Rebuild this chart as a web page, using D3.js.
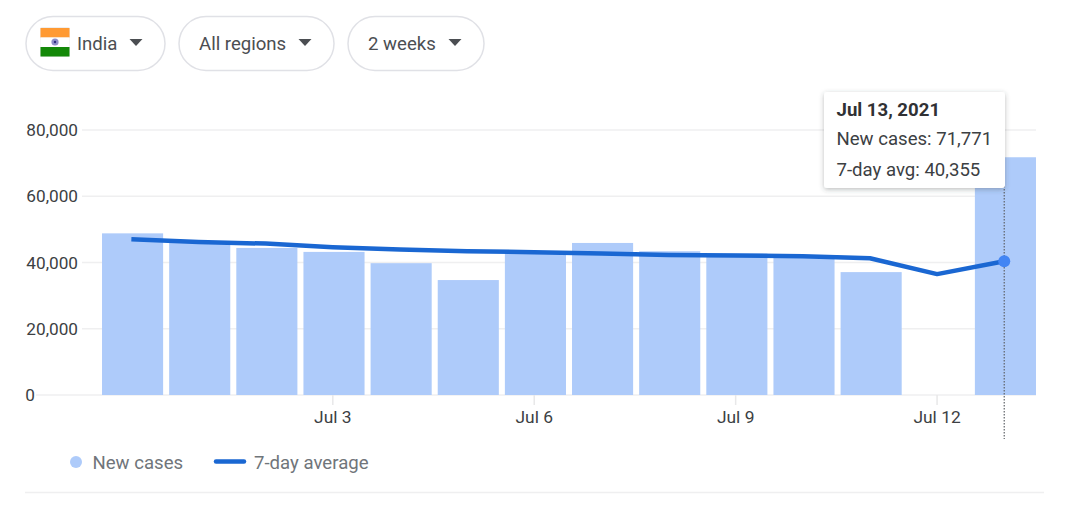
<!DOCTYPE html>
<html>
<head>
<meta charset="utf-8">
<script src="https://cdn.jsdelivr.net/npm/d3@7"></script>
<style>
  html, body { margin: 0; padding: 0; background: #fff; overflow: hidden; }
  text { font-family: Roboto, sans-serif; }
</style>
</head>
<body>
<div id="chart"></div>
<script>
// Daily new cases with a 7-day average, hover state on the last day

const days = ["Jun 30", "Jul 1", "Jul 2", "Jul 3", "Jul 4", "Jul 5", "Jul 6", "Jul 7", "Jul 8", "Jul 9", "Jul 10", "Jul 11", "Jul 12", "Jul 13"];
const newCases = [48800, 45900, 44400, 43200, 39800, 34700, 43300, 45900, 43400, 42700, 41500, 37100, 0, 71771];
const sevenDayAvg = [47000, 46200, 45700, 44600, 43900, 43400, 43100, 42700, 42300, 42100, 41900, 41300, 36500, 40355];
const yTicks = [0, 20000, 40000, 60000, 80000];
const xTickDays = ["Jul 3", "Jul 6", "Jul 9", "Jul 12"];
const filters = ["India", "All regions", "2 weeks"];
const tooltipLines = ["New cases: 71,771", "7-day avg: 40,355"];
const tooltipTitle = "Jul 13, 2021";
const hoverDay = "Jul 13";

const width = 1080;
const height = 506;

const svg = d3.select("#chart")
    .append("svg")
    .attr("width", width)
    .attr("height", height);

const defs = svg.append("defs");
const shadow = defs.append("filter")
    .attr("id", "tipShadow")
    .attr("x", "-10%").attr("y", "-10%")
    .attr("width", "120%").attr("height", "130%");
shadow.append("feDropShadow")
    .attr("dx", 0).attr("dy", 1.5)
    .attr("stdDeviation", 2.5)
    .attr("flood-color", "#3c4043")
    .attr("flood-opacity", 0.35);

const x = d3.scaleBand()
    .domain(days)
    .range([99, 1039])
    .paddingInner(0.09)
    .paddingOuter(0.045);

const y = d3.scaleLinear()
    .domain([0, 80000])
    .range([395, 130]);

// gridlines
svg.append("g").selectAll("line")
    .data(yTicks)
    .enter().append("line")
    .attr("x1", d => d === 0 ? 36 : 82)
    .attr("x2", 1036)
    .attr("y1", d => y(d))
    .attr("y2", d => y(d))
    .attr("stroke", "#efeff0")
    .attr("stroke-width", 1.5);

svg.append("g").selectAll("text")
    .data(yTicks)
    .enter().append("text")
    .attr("x", d => d === 0 ? 35 : 78)
    .attr("y", d => y(d) + 6)
    .attr("text-anchor", "end")
    .attr("font-size", 17.2)
    .attr("fill", "#3c4043")
    .text(d => d3.format(",")(d));

// bars
svg.append("g").selectAll("rect")
    .data(days.map((d, i) => ({ day: d, value: newCases[i] })).filter(d => d.value > 0))
    .enter().append("rect")
    .attr("x", d => x(d.day))
    .attr("y", d => y(d.value))
    .attr("width", x.bandwidth())
    .attr("height", d => y(0) - y(d.value))
    .attr("fill", "#aecbfa");

// x ticks, the line and ticks sit 1px left of the bar centres in the original
const xCenter = d => x(d) + x.bandwidth() / 2 - 1.2;

svg.append("g").selectAll("line")
    .data(xTickDays)
    .enter().append("line")
    .attr("x1", xCenter)
    .attr("x2", xCenter)
    .attr("y1", y(0))
    .attr("y2", y(0) + 10)
    .attr("stroke", "#e8e8e9")
    .attr("stroke-width", 1.5);

svg.append("g").selectAll("text")
    .data(xTickDays)
    .enter().append("text")
    .attr("x", xCenter)
    .attr("y", 422.5)
    .attr("text-anchor", "middle")
    .attr("font-size", 17.4)
    .attr("fill", "#3c4043")
    .text(d => d);

// hover guide
svg.append("line")
    .attr("x1", xCenter(hoverDay))
    .attr("x2", xCenter(hoverDay))
    .attr("y1", 180)
    .attr("y2", 439)
    .attr("stroke", "#5f6368")
    .attr("stroke-width", 1.2)
    .attr("stroke-dasharray", "1.5 1.5");

// 7-day average
const line = d3.line()
    .x((d, i) => xCenter(days[i]))
    .y(d => y(d));

svg.append("path")
    .datum(sevenDayAvg)
    .attr("d", line)
    .attr("fill", "none")
    .attr("stroke", "#1a67d2")
    .attr("stroke-width", 4.5)
    .attr("stroke-linejoin", "round");

svg.append("circle")
    .attr("cx", xCenter(hoverDay))
    .attr("cy", y(sevenDayAvg[days.indexOf(hoverDay)]))
    .attr("r", 6)
    .attr("fill", "#4285f4");

// tooltip
const tip = svg.append("g").attr("transform", "translate(824,92)");
tip.append("rect")
    .attr("width", 181)
    .attr("height", 96)
    .attr("rx", 3)
    .attr("fill", "#fff")
    .attr("filter", "url(#tipShadow)");
tip.append("text")
    .attr("x", 12.5)
    .attr("y", 24)
    .attr("font-size", 18.6)
    .attr("font-weight", 700)
    .attr("fill", "#303134")
    .text(tooltipTitle);
tip.selectAll("text.row")
    .data(tooltipLines)
    .enter().append("text")
    .attr("class", "row")
    .attr("x", 12.5)
    .attr("y", (d, i) => 53 + i * 31)
    .attr("font-size", 18.6)
    .attr("fill", "#3c4043")
    .text(d => d);

// legend
svg.append("circle")
    .attr("cx", 76)
    .attr("cy", 462)
    .attr("r", 6)
    .attr("fill", "#aecbfa");
svg.append("text")
    .attr("x", 92.5)
    .attr("y", 468.5)
    .attr("font-size", 18.6)
    .attr("fill", "#70757a")
    .text("New cases");
svg.append("line")
    .attr("x1", 216)
    .attr("x2", 244)
    .attr("y1", 461.5)
    .attr("y2", 461.5)
    .attr("stroke", "#1a67d2")
    .attr("stroke-width", 4.5)
    .attr("stroke-linecap", "round");
svg.append("text")
    .attr("x", 254)
    .attr("y", 468.5)
    .attr("font-size", 18.6)
    .attr("fill", "#70757a")
    .text("7-day average");

svg.append("line")
    .attr("x1", 25)
    .attr("x2", 1044)
    .attr("y1", 492.5)
    .attr("y2", 492.5)
    .attr("stroke", "#efeff0")
    .attr("stroke-width", 1.5);

// filter chips
const chipX = [26, 179, 348];
const chipW = [139, 155, 136];
const chipTextX = [77, 199, 368];
const caretX = [136, 305, 455];

const chips = svg.append("g").selectAll("g")
    .data(filters)
    .enter().append("g");

chips.append("rect")
    .attr("x", (d, i) => chipX[i])
    .attr("y", 16.5)
    .attr("width", (d, i) => chipW[i])
    .attr("height", 54)
    .attr("rx", 27)
    .attr("fill", "#fff")
    .attr("stroke", "#e0e1e6")
    .attr("stroke-width", 1.5);

chips.append("text")
    .attr("x", (d, i) => chipTextX[i])
    .attr("y", 49.5)
    .attr("font-size", 18.6)
    .attr("fill", "#4b4e52")
    .text(d => d);

chips.append("path")
    .attr("d", (d, i) => `M${caretX[i] - 6.5},39 h13 l-6.5,7 z`)
    .attr("fill", "#4b4e52");

// flag
const flag = svg.append("g");
const flagColors = ["#ff9a33", "#ffffff", "#138808"];
flag.append("rect")
    .attr("x", 40).attr("y", 27)
    .attr("width", 30).attr("height", 30)
    .attr("rx", 2)
    .attr("fill", "#eeeeee");
flag.selectAll("rect.band")
    .data(flagColors)
    .enter().append("rect")
    .attr("class", "band")
    .attr("x", 40.5)
    .attr("y", (d, i) => 28 + i * 9.5)
    .attr("width", 29)
    .attr("height", 9.5)
    .attr("fill", d => d);
flag.append("circle")
    .attr("cx", 55)
    .attr("cy", 42)
    .attr("r", 3.6)
    .attr("fill", "#8f8fc8");
flag.append("circle")
    .attr("cx", 55)
    .attr("cy", 42)
    .attr("r", 1.2)
    .attr("fill", "#2d2d80");
</script>
</body>
</html>
